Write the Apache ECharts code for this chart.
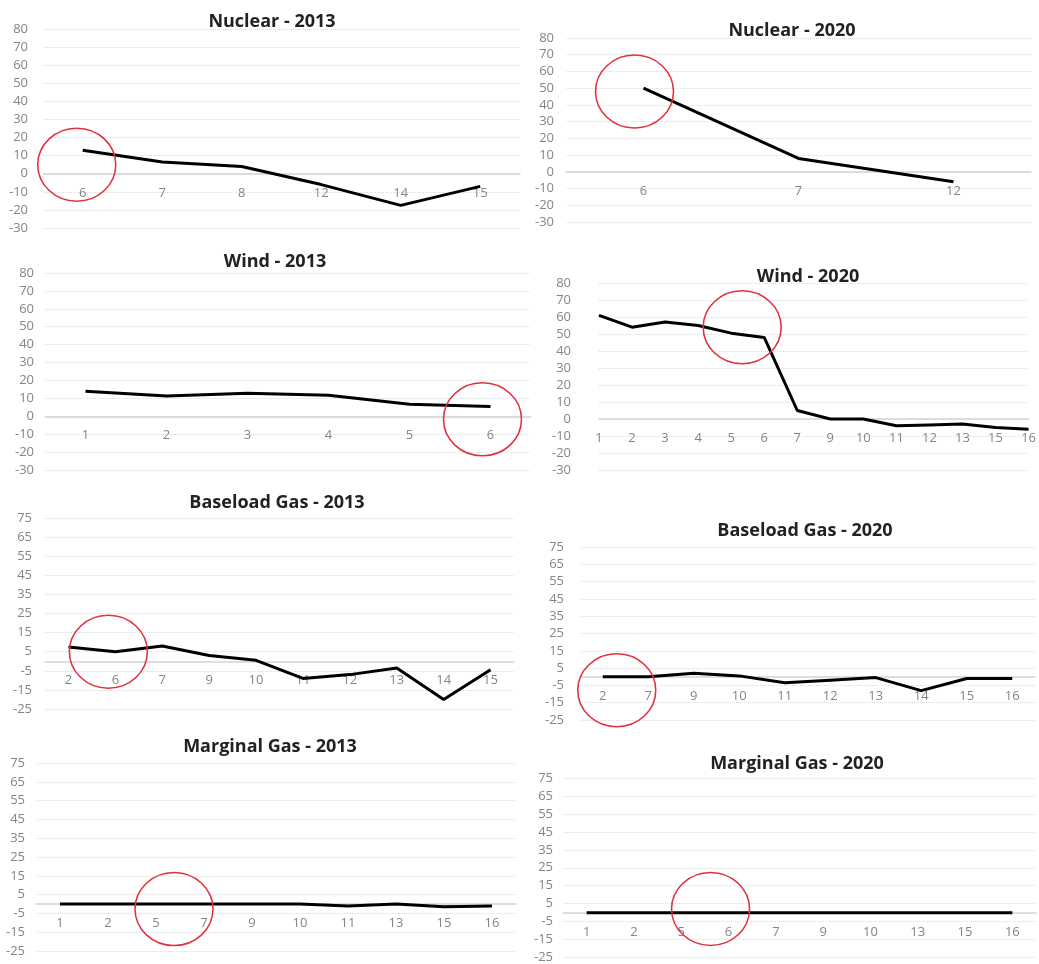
<!DOCTYPE html>
<html>
<head>
<meta charset="utf-8">
<script src="https://cdn.jsdelivr.net/npm/echarts@6/dist/echarts.min.js"></script>
<style>
html,body{margin:0;padding:0;background:#fff;}
#chart{width:1039px;height:964px;}
</style>
</head>
<body>
<div id="chart"></div>
<script>
// ---- Data ----
const titles = ['Nuclear - 2013', 'Nuclear - 2020', 'Wind - 2013', 'Wind - 2020',
  'Baseload Gas - 2013', 'Baseload Gas - 2020', 'Marginal Gas - 2013', 'Marginal Gas - 2020'];

const nuclear2013Cats = ['6', '7', '8', '12', '14', '15'];
const nuclear2013Vals = [13, 6.5, 4, -6, -17.5, -7];

const nuclear2020Cats = ['6', '7', '12'];
const nuclear2020Vals = [50, 8, -6];

const wind2013Cats = ['1', '2', '3', '4', '5', '6'];
const wind2013Vals = [14, 11.3, 12.8, 11.8, 6.7, 5.4];

const wind2020Cats = ['1', '2', '3', '4', '5', '6', '7', '9', '10', '11', '12', '13', '15', '16'];
const wind2020Vals = [61, 54, 57, 55, 50.5, 48, 5, 0, 0, -4, -3.5, -3, -5, -6];

const baseGas2013Cats = ['2', '6', '7', '9', '10', '11', '12', '13', '14', '15'];
const baseGas2013Vals = [7.5, 5, 8, 3, 0.5, -9, -7, -3.5, -20, -4.5];

const baseGas2020Cats = ['2', '7', '9', '10', '11', '12', '13', '14', '15', '16'];
const baseGas2020Vals = [0, 0, 2, 0.5, -3.5, -2, -0.5, -8, -1, -1];

const margGas2013Cats = ['1', '2', '5', '7', '9', '10', '11', '13', '15', '16'];
const margGas2013Vals = [0, 0, 0, 0, 0, 0, -1, 0, -1.5, -1];

const margGas2020Cats = ['1', '2', '5', '6', '7', '9', '10', '13', '15', '16'];
const margGas2020Vals = [0, 0, 0, 0, 0, 0, 0, 0, 0, 0];

// y-axis ranges (tick labels)
const yRangeTop = { min: -30, max: 80, interval: 10 };
const yRangeBottom = { min: -25, max: 75, interval: 10 };

// red highlight circles (anchor in data coordinates)
const circleAnchors = [['6', 5], ['6', 48], ['6', -1.7], ['5', 54], ['6', 5], ['2', -7.8], ['5', -2.7], ['6', 2]];

// ---- Layout (pixels) ----
const panels = [
  { cats: nuclear2013Cats, vals: nuclear2013Vals, y: yRangeTop,    grid: {left: 43,  width: 477, top: 29,  height: 199}, bgap: true,  ym: 15, title: [267, 20], cOff: -6 },
  { cats: nuclear2020Cats, vals: nuclear2020Vals, y: yRangeTop,    grid: {left: 566, width: 465, top: 38,  height: 184}, bgap: true,  ym: 12, title: [787, 29], cOff: -9 },
  { cats: wind2013Cats,    vals: wind2013Vals,    y: yRangeTop,    grid: {left: 45,  width: 486, top: 273, height: 197}, bgap: true,  ym: 11, title: [270, 260], cOff: -8 },
  { cats: wind2020Cats,    vals: wind2020Vals,    y: yRangeTop,    grid: {left: 599, width: 433, top: 283, height: 187}, bgap: false, ym: 28, title: [803, 275], cOff: 11 },
  { cats: baseGas2013Cats, vals: baseGas2013Vals, y: yRangeBottom, grid: {left: 45,  width: 469, top: 518, height: 191}, bgap: true,  ym: 13, title: [272, 501], cOff: -7 },
  { cats: baseGas2020Cats, vals: baseGas2020Vals, y: yRangeBottom, grid: {left: 580, width: 455, top: 547, height: 173}, bgap: true,  ym: 16, title: [800, 529], cOff: 14 },
  { cats: margGas2013Cats, vals: margGas2013Vals, y: yRangeBottom, grid: {left: 36,  width: 480, top: 763, height: 188}, bgap: true,  ym: 11, title: [265, 745], cOff: 18 },
  { cats: margGas2020Cats, vals: margGas2020Vals, y: yRangeBottom, grid: {left: 563, width: 473, top: 778, height: 180}, bgap: true,  ym: 10, title: [792, 762], cOff: -18 }
];

const labelColor = '#858585';
const fontFam = '"Open Sans", "Liberation Sans", sans-serif';

const option = {
  animation: false,
  backgroundColor: '#ffffff',
  title: [], grid: [], xAxis: [], yAxis: [], series: []
};

panels.forEach((p, i) => {
  // place the category axis at value 0 (derived from the value-axis range)
  const zeroOffset = -p.grid.height * (0 - p.y.min) / (p.y.max - p.y.min);
  option.title.push({
    text: titles[i],
    left: p.title[0], top: p.title[1] - 12,
    textAlign: 'center',
    textStyle: { fontFamily: fontFam, fontSize: 18, fontWeight: 'bold', color: '#222' }
  });
  option.grid.push(Object.assign({ containLabel: false }, p.grid));
  option.xAxis.push({
    type: 'category', gridIndex: i, data: p.cats, boundaryGap: p.bgap,
    position: 'bottom', offset: zeroOffset,
    axisLine: { show: true, onZero: false, lineStyle: { color: '#d4d4d4', width: 1.5 } },
    axisTick: { show: false },
    axisLabel: { margin: 13, color: labelColor, fontSize: 13, fontFamily: fontFam },
    splitLine: { show: false }
  });
  option.yAxis.push({
    type: 'value', gridIndex: i, min: p.y.min, max: p.y.max, interval: p.y.interval,
    axisLine: { show: false }, axisTick: { show: false },
    axisLabel: { margin: p.ym, color: labelColor, fontSize: 13, fontFamily: fontFam },
    splitLine: { show: true, lineStyle: { color: '#dcdcdc', type: 'dotted', width: 1 } }
  });
  option.series.push({
    type: 'line', xAxisIndex: i, yAxisIndex: i, data: p.vals,
    symbol: 'none', lineStyle: { color: '#000', width: 3 },
    markPoint: {
      silent: true,
      symbol: 'circle', symbolSize: [78, 73], symbolOffset: [p.cOff, 0],
      itemStyle: { color: 'rgba(0,0,0,0)', borderColor: '#e0323c', borderWidth: 1.5 },
      label: { show: false },
      data: [{ coord: circleAnchors[i] }]
    }
  });
});

const chart = echarts.init(document.getElementById('chart'), null, { renderer: 'canvas' });
chart.setOption(option);
</script>
</body>
</html>
